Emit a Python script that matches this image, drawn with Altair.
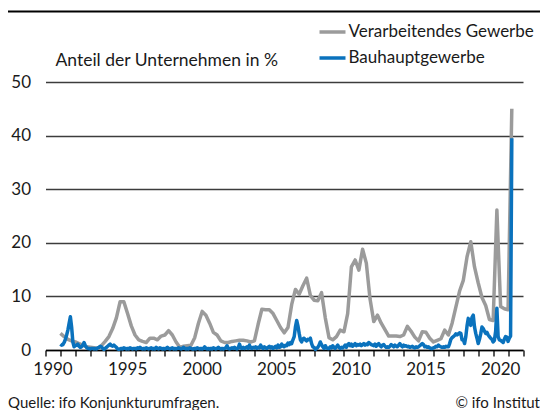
import altair as alt
import pandas as pd

FONT = "Lato"
GRAY_NAME = "Verarbeitendes Gewerbe"
BLUE_NAME = "Bauhauptgewerbe"
y_title = "Anteil der Unternehmen in %"
footer_left = "Quelle: ifo Konjunkturumfragen."
footer_right = "© ifo Institut"

# Verarbeitendes Gewerbe: quarterly, starting Jan 1991
gray_start = 1991.0
gray_values = [
    3.1, 2.5, 2.0, 1.7,      # 1991
    1.5, 1.2, 0.9, 0.6,      # 1992
    0.5, 0.4, 0.3, 0.8,      # 1993
    1.6, 2.5, 4.0, 6.0,      # 1994
    9.0, 9.0, 6.8, 4.5,      # 1995
    2.8, 1.9, 1.6, 1.4,      # 1996
    2.2, 2.2, 1.9, 2.6,      # 1997
    2.8, 3.6, 2.8, 1.5,      # 1998
    0.5, 0.7, 0.8, 0.9,      # 1999
    2.3, 5.0, 7.2, 6.5,      # 2000
    5.0, 3.3, 2.8, 1.7,      # 2001
    1.4, 1.4, 1.6, 1.7,      # 2002
    1.8, 1.8, 1.7, 1.5,      # 2003
    1.7, 4.8, 7.6, 7.5,      # 2004
    7.5, 6.8, 5.5, 4.2,      # 2005
    3.2, 4.2, 8.5, 11.3,     # 2006
    10.4, 12.0, 13.4, 10.2,  # 2007
    9.3, 9.2, 10.7, 6.0,     # 2008
    2.3, 1.9, 2.5, 3.7,      # 2009
    3.4, 6.8, 15.5, 16.8,    # 2010
    14.9, 18.8, 16.2, 9.5,   # 2011
    5.3, 6.5, 5.0, 3.8,      # 2012
    2.6, 2.6, 2.6, 2.5,      # 2013
    2.8, 4.4, 3.5, 2.4,      # 2014
    1.7, 3.4, 3.3, 2.2,      # 2015
    1.5, 1.8, 2.1, 3.7,      # 2016
    2.8, 5.0, 8.0, 11.0,     # 2017
    13.0, 17.4, 20.2, 15.5,  # 2018
    12.5, 9.8, 8.3, 5.7,     # 2019
    5.5, 26.1, 8.1, 7.7,     # 2020
    7.5, 45.0,               # 2021
]

# Bauhauptgewerbe: monthly, starting Jan 1991
blue_start = 1991.0
blue_1990s = [
    1.1, 0.9, 1.0, 1.4, 2.0, 2.8, 3.7, 5.0, 6.2, 4.3, 1.5, 0.6,  # 1991
    0.8, 0.9, 1.1, 0.7, 0.5, 0.6, 0.9, 1.4, 0.8, 0.5, 0.3, 0.3,  # 1992
    0.2, 0.3, 0.3, 0.2, 0.3, 0.2, 0.4, 0.5, 0.7, 0.6, 0.3, 0.1,  # 1993
    0.3, 0.5, 0.7, 0.9, 1.1, 0.8, 0.7, 0.9, 0.7, 0.5, 0.2, 0.1,  # 1994
    0.2, 0.3, 0.2, 0.4, 0.3, 0.2, 0.3, 0.2, 0.4, 0.3, 0.2, 0.3,  # 1995
    0.3, 0.2, 0.4, 0.3, 0.5, 0.3, 0.2, 0.3, 0.2, 0.4, 0.3, 0.2,  # 1996
    0.3, 0.4, 0.2, 0.3, 0.2, 0.5, 0.3, 0.2, 0.4, 0.3, 0.2, 0.3,  # 1997
    0.2, 0.3, 0.5, 0.3, 0.2, 0.3, 0.4, 0.2, 0.3, 0.2, 0.3, 0.4,  # 1998
    0.3, 0.2, 0.3, 0.5, 0.3, 0.2, 0.3, 0.2, 0.4, 0.3, 0.2, 0.2,  # 1999
]
blue_2000s = [
    0.3, 0.2, 0.4, 0.3, 0.2, 0.3, 0.2, 0.3, 0.6, 0.3, 0.2, 0.3,  # 2000
    0.2, 0.3, 0.2, 0.4, 0.3, 0.2, 0.3, 0.5, 0.3, 0.2, 0.3, 0.2,  # 2001
    0.3, 0.4, 0.8, 0.3, 0.2, 0.3, 0.4, 0.3, 0.5, 0.3, 0.2, 0.4,  # 2002
    1.1, 0.4, 0.3, 0.5, 0.3, 0.4, 0.6, 0.3, 0.9, 0.4, 0.3, 0.5,  # 2003
    0.4, 0.6, 0.3, 0.5, 0.4, 0.9, 0.5, 0.3, 0.6, 0.4, 0.3, 0.5,  # 2004
    0.7, 0.4, 0.6, 0.3, 0.5, 0.7, 0.4, 0.9, 0.5, 0.6, 1.1, 0.7,  # 2005
    0.6, 0.9, 0.8, 1.3, 1.0, 1.4, 1.2, 1.9, 2.5, 4.3, 5.5, 4.5,  # 2006
    3.1, 1.9, 1.5, 2.1, 2.2, 1.9, 1.7, 2.0, 1.9, 2.2, 1.2, 0.6,  # 2007
    0.5, 0.1, 0.3, 0.5, 0.9, 1.5, 1.0, 0.6, 0.3, 0.8, 0.4, 0.3,  # 2008
    0.3, 0.6, 0.4, 0.8, 0.5, 0.3, 0.6, 0.9, 0.5, 0.3, 0.5, 0.4,  # 2009
]
blue_2010s = [
    0.6, 0.9, 0.5, 1.0, 1.2, 0.8, 1.1, 0.7, 0.9, 1.2, 0.8, 1.0,  # 2010
    0.9, 1.1, 0.8, 1.0, 1.2, 0.9, 1.1, 1.0, 1.4, 1.2, 1.0, 0.9,  # 2011
    0.8, 1.1, 0.7, 1.0, 1.2, 0.8, 0.6, 0.9, 1.0, 0.7, 0.5, 0.6,  # 2012
    0.5, 0.7, 1.0, 0.8, 0.6, 0.9, 0.7, 0.6, 0.9, 1.2, 0.8, 0.6,  # 2013
    0.9, 0.7, 0.8, 0.6, 0.7, 0.5, 0.6, 0.7, 0.5, 0.4, 0.6, 0.5,  # 2014
    0.6, 0.8, 1.0, 1.2, 1.0, 0.6, 0.7, 0.5, 0.6, 0.4, 0.3, 0.3,  # 2015
    0.4, 0.5, 0.7, 0.6, 0.9, 0.7, 0.6, 0.5, 0.6, 0.5, 0.7, 0.6,  # 2016
    0.6, 1.2, 2.0, 2.3, 2.5, 2.7, 3.0, 2.8, 3.0, 3.2, 3.1, 1.9,  # 2017
    1.9, 1.2, 2.5, 4.5, 5.9, 5.0, 4.6, 6.1, 6.5, 4.3, 3.1, 2.2,  # 2018
    1.2, 2.0, 3.0, 4.3, 4.0, 3.5, 3.1, 3.3, 2.8, 2.5, 2.2, 2.0,  # 2019
]
blue_2020s = [
    1.5, 1.8, 3.5, 7.8, 2.5, 1.9, 1.8, 1.6, 1.4, 2.0, 2.5, 2.4,  # 2020
    1.6, 2.2, 2.6, 39.5,                                         # 2021
]

x_ticks = list(range(1990, 2023))
y_ticks = [0, 10, 20, 30, 40, 50]

rows = []
for i, v in enumerate(gray_values):
    rows.append({"t": gray_start + i / 4, "v": v, "s": GRAY_NAME})
blue_values = blue_1990s + blue_2000s + blue_2010s + blue_2020s
for i, v in enumerate(blue_values):
    rows.append({"t": blue_start + i / 12, "v": v, "s": BLUE_NAME})
df = pd.DataFrame(rows)

W, H = 477.5, 268
PAD = {"left": 37.5, "top": 74, "right": 17, "bottom": 60}

lines = alt.Chart(df).mark_line(strokeWidth=3.5, strokeJoin="round").encode(
    x=alt.X(
        "t:Q",
        scale=alt.Scale(domain=[1990, 2022], nice=False, zero=False),
        axis=alt.Axis(
            title=None,
            values=x_ticks,
            labelExpr="datum.value % 5 == 0 ? format(datum.value, 'd') : ''",
            labelOverlap=False,
            labelFlush=False,
            labelOffset=7,
            labelPadding=5,
            labelFontSize=17,
            labelColor="#1a1a1a",
            labelFont=FONT,
            tickSize=6,
            tickColor="#000000",
            tickWidth=1.3,
            domainColor="#000000",
            domainWidth=1.5,
            grid=False,
        ),
    ),
    y=alt.Y(
        "v:Q",
        scale=alt.Scale(domain=[0, 50], nice=False),
        axis=alt.Axis(
            title=y_title,
            titleAngle=0,
            titleAlign="left",
            titleBaseline="middle",
            titleX=9.5,
            titleY=-22,
            titleFontSize=17.5,
            titleFontWeight="normal",
            titleFont=FONT,
            titleColor="#1a1a1a",
            values=y_ticks,
            domain=False,
            ticks=False,
            labelPadding=15,
            labelFontSize=17,
            labelFont=FONT,
            labelColor="#1a1a1a",
            grid=True,
            gridColor="#3c3c3c",
            gridWidth=1.3,
        ),
    ),
    color=alt.Color(
        "s:N",
        scale=alt.Scale(domain=[GRAY_NAME, BLUE_NAME], range=["#9b9b9b", "#0a72bd"]),
        legend=alt.Legend(
            title=None,
            orient="none",
            legendX=272,
            legendY=-65,
            symbolType="stroke",
            symbolSize=676,
            symbolStrokeWidth=3.5,
            labelFontSize=17,
            labelFont=FONT,
            labelColor="#1a1a1a",
            labelOffset=1,
            labelLimit=400,
            rowPadding=3,
        ),
    ),
)

top_rule = alt.Chart(pd.DataFrame({"a": [0]})).mark_rule(color="#000000", strokeWidth=2).encode(
    x=alt.value(-PAD["left"]), x2=alt.value(W + PAD["right"]), y=alt.value(-70.5)
)

foot_l = alt.Chart(pd.DataFrame({"label": [footer_left]})).mark_text(
    align="left", baseline="middle", fontSize=15, font=FONT, color="#1a1a1a"
).encode(x=alt.value(-PAD["left"]), y=alt.value(321), text="label:N")

foot_r = alt.Chart(pd.DataFrame({"label": [footer_right]})).mark_text(
    align="right", baseline="middle", fontSize=15, font=FONT, color="#1a1a1a"
).encode(x=alt.value(W + PAD["right"]), y=alt.value(321), text="label:N")

chart = alt.layer(lines, top_rule, foot_l, foot_r).properties(
    width=W,
    height=H,
    autosize=alt.AutoSizeParams(type="none"),
    padding=PAD,
).configure_view(stroke=None)

chart.save("out.html", embed_options={"renderer": "svg", "actions": False})
